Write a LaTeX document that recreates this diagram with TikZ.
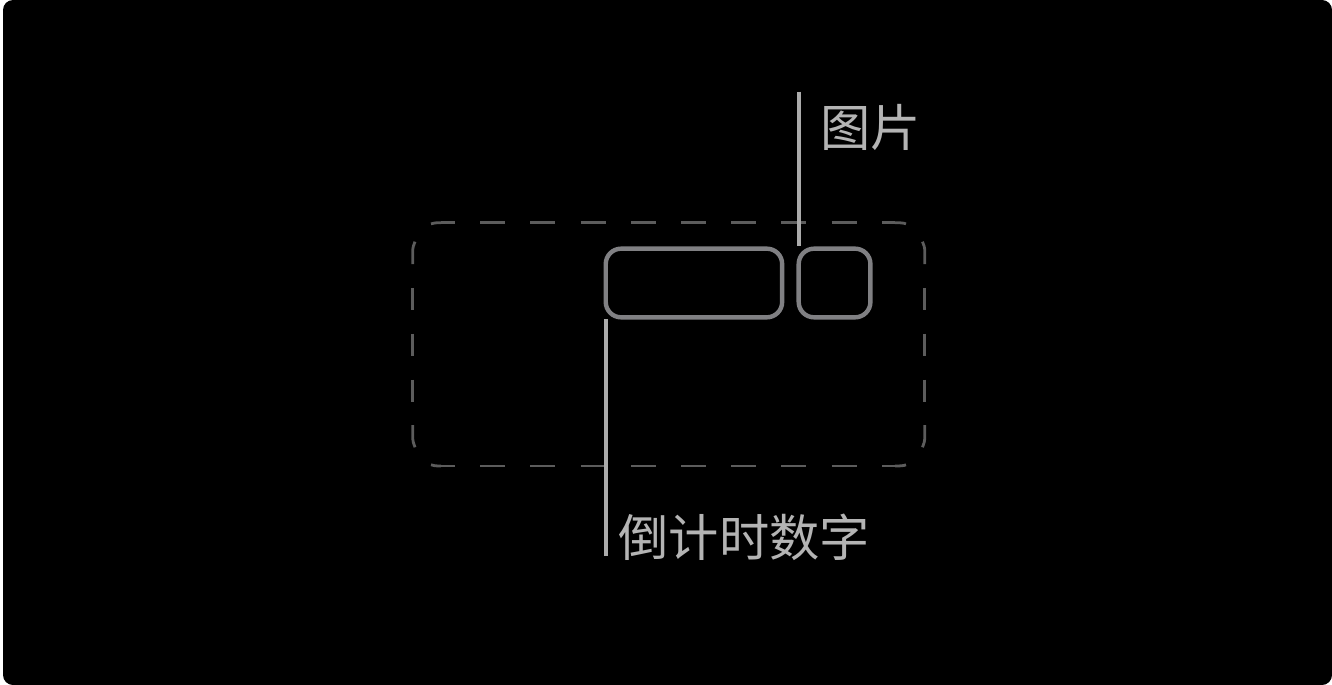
\documentclass[tikz,border=0pt]{standalone}
\usepackage{fontspec}
\newfontfamily\cjk{Noto Sans CJK SC}
\definecolor{framegray}{HTML}{5C5C5C}
\definecolor{boxgray}{HTML}{808083}
\definecolor{leadgray}{HTML}{ABABAB}
\definecolor{labelgray}{HTML}{B4B4B4}
\tikzset{
  px/.style={x=0.75pt,y=-0.75pt},
  framedash/.style={draw=framegray,line width=2.1pt},
  slotbox/.style={draw=boxgray,line width=3.3pt,rectangle,rounded corners=11.5pt,inner sep=0pt,outer sep=0pt},
  leadline/.style={draw=leadgray,line width=3.2pt},
  calllabel/.style={text=labelgray,inner sep=0pt,font=\cjk\fontsize{37.7}{37.7}\selectfont},
}
\begin{document}
\begin{tikzpicture}[px]
\useasboundingbox (0,0) rectangle (1332,685);
\fill[white] (0,0) rectangle (1332,685);
\fill[black,rounded corners=7.5pt] (3,0) rectangle (1332,685);
% dashed frame
\foreach \y in {222.7,466}{
  \draw[framedash,dash pattern=on 18.75pt off 18.9pt] (480.2,\y) -- (857,\y);
  \draw[framedash] (441,\y) -- (455,\y);
  \draw[framedash] (882,\y) -- (895,\y);
}
\foreach \x in {412.7,924.8}{
  \draw[framedash,dash pattern=on 16.8pt off 17.55pt] (\x,287.9) -- (\x,402);
}
\draw[framedash] (431,223.9) .. controls (433,223) and (436,222.7) .. (441,222.7);
\draw[framedash] (906,223.9) .. controls (904,223) and (901,222.7) .. (895,222.7);
\draw[framedash] (431,464.8) .. controls (433,465.7) and (436,466) .. (441,466);
\draw[framedash] (906,464.8) .. controls (904,465.7) and (901,466) .. (895,466);
\draw[framedash] (412.7,264) -- (412.7,252) .. controls (412.7,247.5) and (413.5,245) .. (415,241.7);
\draw[framedash] (924.8,264) -- (924.8,252) .. controls (924.8,247.5) and (924,245) .. (922.5,241.7);
\draw[framedash] (412.7,425) -- (412.7,436) .. controls (412.7,441) and (413.5,444) .. (415,447.3);
\draw[framedash] (924.8,425) -- (924.8,436) .. controls (924.8,441) and (924,444) .. (922.5,447.3);
% inner boxes
\node[slotbox,minimum width=132.3pt,minimum height=51.5pt] (digits) at (693.95,283) {};
\node[slotbox,minimum width=53.8pt,minimum height=51.5pt] (picture) at (834.55,283) {};
% leader lines and labels
\coordinate (picturetop) at (798.8,91.7);
\coordinate (digitsbottom) at (606,556);
\draw[leadline,shorten >=2pt] (picturetop) -- (picturetop |- picture.north);
\draw[leadline,shorten >=1.3pt] (digitsbottom) -- (digitsbottom |- digits.south);
\node[calllabel,anchor=center] (picturelabel) at (870.5,127) {图片};
\node[calllabel,anchor=center] (digitslabel) at (744.3,537) {倒计时数字};
\end{tikzpicture}
\end{document}
